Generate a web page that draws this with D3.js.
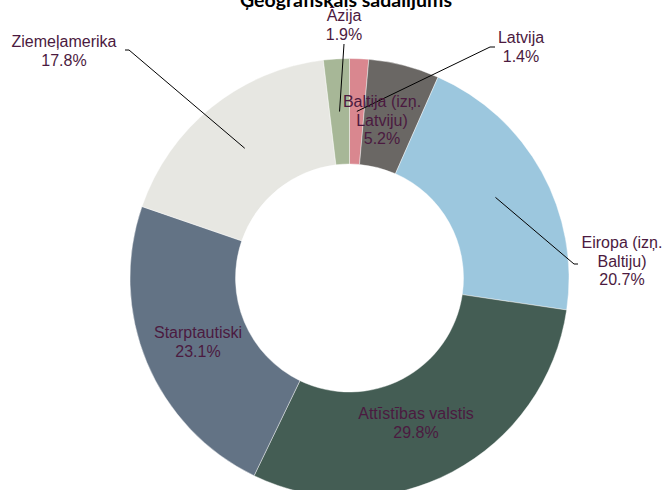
<!DOCTYPE html>
<html>
<head>
<meta charset="utf-8">
<script src="https://cdn.jsdelivr.net/npm/d3@7"></script>
<style>
  body { margin: 0; background: #fff; }
  svg { display: block; }
</style>
</head>
<body>
<div id="chart"></div>
<script>
// Data
const categories = ["Latvija", "Baltija (izņ. Latvija)", "Eiropa (izņ. Baltiju)", "Attīstības valstis", "Starptautiski", "Ziemeļamerika", "Āzija"];
const shares = [1.4, 5.2, 20.7, 29.8, 23.1, 17.8, 1.9];
const labelLines = [
    ["Latvija", "1.4%"],
    ["Baltija (izņ.", "Latviju)", "5.2%"],
    ["Eiropa (izņ.", "Baltiju)", "20.7%"],
    ["Attīstības valstis", "29.8%"],
    ["Starptautiski", "23.1%"],
    ["Ziemeļamerika", "17.8%"],
    ["Āzija", "1.9%"]
];
const colors = ["#d9878f", "#6a6764", "#9cc7de", "#445d54", "#637385", "#e7e7e2", "#a7b797"];
const title = "Ģeogrāfiskais sadalījums";

const width = 666, height = 490;
const cx = 349.5, cy = 278;
const outerR = 219.5, innerR = 114;

// label placement: text block anchor (x, first baseline) and the elbow of the leader line
const labelLayout = [
    { x: 521, y: 43, leader: [[495, 47], [490, 47]] },
    { x: 382, y: 107 },
    { x: 622, y: 248, leader: [[578, 264], [574, 264]] },
    { x: 416, y: 419 },
    { x: 198, y: 338 },
    { x: 64, y: 47, leader: [[125, 50], [129, 50]] },
    { x: 344, y: 21, leader: [[344, 44]] }
];

const svg = d3.select("#chart")
    .append("svg")
    .attr("width", width)
    .attr("height", height);

const data = categories.map((c, i) => ({ name: c, value: shares[i], i: i }));

const pie = d3.pie()
    .sort(null)
    .value(d => d.value);

const arc = d3.arc()
    .innerRadius(innerR)
    .outerRadius(outerR);

const g = svg.append("g")
    .attr("transform", `translate(${cx},${cy})`);

const arcs = pie(data);

g.selectAll("path.slice")
    .data(arcs)
    .enter().append("path")
    .attr("class", "slice")
    .attr("d", arc)
    .attr("fill", d => colors[d.data.i])
    .attr("stroke", "#ffffff")
    .attr("stroke-opacity", 0.6)
    .attr("stroke-width", 0.7);

// leader lines
arcs.forEach(d => {
    const lay = labelLayout[d.data.i];
    if (!lay.leader) return;
    const c = arc.centroid(d);
    const pts = lay.leader.map(p => [p[0], p[1]]).concat([[c[0] + cx, c[1] + cy]]);
    svg.append("path")
        .attr("d", d3.line()(pts))
        .attr("fill", "none")
        .attr("stroke", "#000")
        .attr("stroke-width", 1);
});

// labels
arcs.forEach(d => {
    const lay = labelLayout[d.data.i];
    const t = svg.append("text")
        .attr("x", lay.x)
        .attr("y", lay.y)
        .attr("text-anchor", "middle")
        .style("font-family", "'Liberation Sans', Arial, sans-serif")
        .style("font-size", "16px")
        .style("fill", "#4b1a40");
    labelLines[d.data.i].forEach((line, k) => {
        t.append("tspan")
            .attr("x", lay.x)
            .attr("dy", k === 0 ? 0 : 18.7)
            .text(line);
    });
});

// title (cut off at the top in the original)
svg.append("text")
    .attr("x", 346)
    .attr("y", 7)
    .attr("text-anchor", "middle")
    .attr("textLength", 212)
    .attr("lengthAdjust", "spacingAndGlyphs")
    .style("font-family", "Lato, 'Open Sans', sans-serif")
    .style("font-weight", "bold")
    .style("font-size", "19px")
    .style("fill", "#000")
    .text(title);
</script>
</body>
</html>
